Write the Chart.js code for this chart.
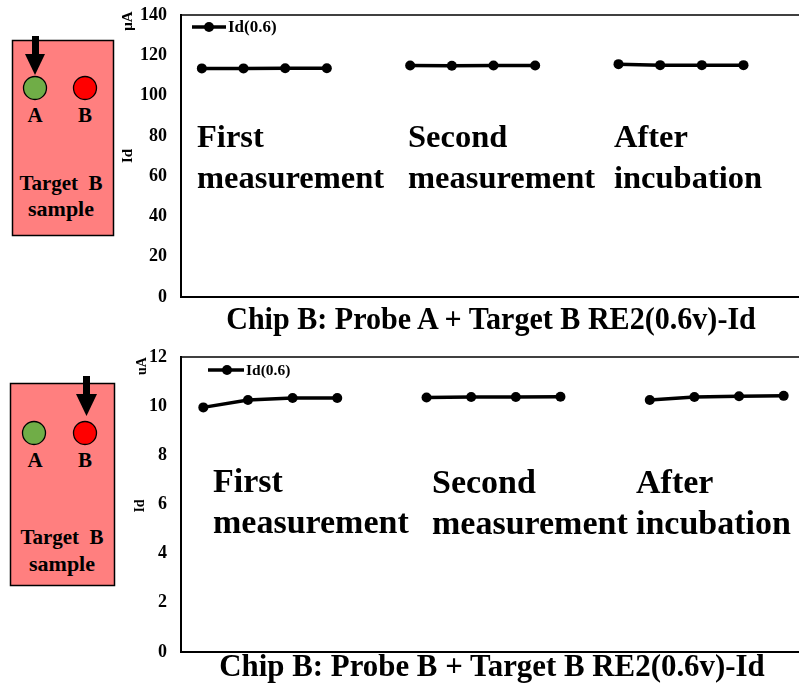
<!DOCTYPE html>
<html>
<head>
<meta charset="utf-8">
<script src="https://cdn.jsdelivr.net/npm/chart.js@4/dist/chart.umd.min.js"></script>
<style>
  html, body { margin:0; padding:0; background:#fff; }
  #wrap { position:relative; width:799px; height:689px; overflow:hidden; background:#fff; }
  canvas { position:absolute; left:0; }
  .t { position:absolute; font-family:"Liberation Serif","Times New Roman",serif; font-weight:bold; color:#000; white-space:nowrap; }
  .rot { transform:translate(-50%,-50%) rotate(-90deg); }
  svg { position:absolute; left:0; top:0; }
</style>
</head>
<body>
<div id="wrap">
  <svg width="799" height="689">
    <!-- top diagram -->
    <rect x="12.5" y="40.5" width="101" height="195" fill="#FF7F7F" stroke="#000" stroke-width="1.5"/>
    <circle cx="35" cy="88" r="11.5" fill="#70AD47" stroke="#000" stroke-width="1.3"/>
    <circle cx="85" cy="88" r="11.5" fill="#FF0000" stroke="#000" stroke-width="1.3"/>
    <rect x="32" y="36" width="7" height="19" fill="#000"/>
    <polygon points="25,54 45,54 35,75" fill="#000"/>
    <text x="35" y="122" text-anchor="middle" font-family="Liberation Serif" font-weight="bold" font-size="21">A</text>
    <text x="85" y="122" text-anchor="middle" font-family="Liberation Serif" font-weight="bold" font-size="21">B</text>
    <text x="61" y="190" text-anchor="middle" font-family="Liberation Serif" font-weight="bold" font-size="21" xml:space="preserve">Target  B</text>
    <text x="61" y="216" text-anchor="middle" font-family="Liberation Serif" font-weight="bold" font-size="22">sample</text>
    <!-- bottom diagram -->
    <rect x="10.5" y="383.5" width="104" height="202" fill="#FF7F7F" stroke="#000" stroke-width="1.5"/>
    <circle cx="34" cy="433" r="11.5" fill="#70AD47" stroke="#000" stroke-width="1.3"/>
    <circle cx="85" cy="433" r="11.5" fill="#FF0000" stroke="#000" stroke-width="1.3"/>
    <rect x="83" y="376" width="7" height="19" fill="#000"/>
    <polygon points="76,394 97,394 86.5,416" fill="#000"/>
    <text x="35" y="467" text-anchor="middle" font-family="Liberation Serif" font-weight="bold" font-size="21">A</text>
    <text x="85" y="467" text-anchor="middle" font-family="Liberation Serif" font-weight="bold" font-size="21">B</text>
    <text x="62" y="544" text-anchor="middle" font-family="Liberation Serif" font-weight="bold" font-size="21" xml:space="preserve">Target  B</text>
    <text x="62" y="571" text-anchor="middle" font-family="Liberation Serif" font-weight="bold" font-size="22">sample</text>
  </svg>
  <canvas id="c1" width="811" height="330" style="top:-9px"></canvas>
  <canvas id="c2" width="811" height="343" style="top:333px"></canvas>

  <!-- legends -->
  <svg width="799" height="689" style="pointer-events:none">
    <line x1="192" y1="27" x2="226" y2="27" stroke="#000" stroke-width="3.5"/>
    <circle cx="209" cy="27" r="5" fill="#000"/>
    <line x1="208" y1="370" x2="244" y2="370" stroke="#000" stroke-width="3.5"/>
    <circle cx="227" cy="370" r="5" fill="#000"/>
  </svg>
  <div class="t" style="left:228px;top:18px;font-size:17px;line-height:18px;">Id(0.6)</div>
  <div class="t" style="left:246px;top:362px;font-size:15.5px;line-height:16px;">Id(0.6)</div>

  <!-- axis titles -->
  <div class="t rot" style="left:127px;top:21px;font-size:15px;">μA</div>
  <div class="t rot" style="left:127px;top:156px;font-size:15px;">Id</div>
  <div class="t rot" style="left:142px;top:366px;font-size:14px;">uA</div>
  <div class="t rot" style="left:140px;top:506px;font-size:14px;">Id</div>

  <!-- annotations top -->
  <div class="t" style="left:197px;top:116px;font-size:32.5px;line-height:41px;">First<br>measurement</div>
  <div class="t" style="left:408px;top:116px;font-size:32.5px;line-height:41px;">Second<br>measurement</div>
  <div class="t" style="left:614px;top:116px;font-size:32.5px;line-height:41px;">After<br>incubation</div>
  <!-- annotations bottom -->
  <div class="t" style="left:213px;top:460px;font-size:34px;line-height:41px;">First<br>measurement</div>
  <div class="t" style="left:432px;top:461px;font-size:34px;line-height:41px;">Second<br>measurement</div>
  <div class="t" style="left:636px;top:461px;font-size:34px;line-height:41px;">After<br>incubation</div>

  <!-- titles -->
  <div class="t" style="left:491px;top:300px;font-size:32px;line-height:36px;transform:translateX(-50%) scaleX(0.94);">Chip B: Probe A + Target B RE2(0.6v)-Id</div>
  <div class="t" style="left:492px;top:647px;font-size:32px;line-height:36px;transform:translateX(-50%) scaleX(0.965);">Chip B: Probe B + Target B RE2(0.6v)-Id</div>
</div>
<script>
// ---- data ----
const seriesName = "Id(0.6)";
const groupNames = ["First measurement", "Second measurement", "After incubation"];
// slot positions along x (one empty slot between groups)
const slotPos = [1, 2, 3, 4, 6, 7, 8, 9, 11, 12, 13, 14];
// Chip B: Probe A + Target B (µA)
const probeA = [113.5, 113.5, 113.6, 113.6, 114.9, 114.8, 114.9, 114.9, 115.6, 115.1, 115.1, 115.1];
// Chip B: Probe B + Target B (uA)
const probeB = [9.95, 10.25, 10.33, 10.33, 10.35, 10.37, 10.37, 10.38, 10.25, 10.37, 10.40, 10.42];
const yTicksTop = [0, 20, 40, 60, 80, 100, 120, 140];
const yTicksBottom = [0, 2, 4, 6, 8, 10, 12];

function buildPoints(vals) {
  const pts = [];
  vals.forEach((v, i) => {
    if (i > 0 && slotPos[i] - slotPos[i - 1] > 1) pts.push({ x: slotPos[i] - 1, y: null });
    pts.push({ x: slotPos[i], y: v });
  });
  return pts;
}

const topBorder = {
  id: 'topBorder',
  afterDraw(chart) {
    const { ctx, chartArea } = chart;
    ctx.save();
    ctx.strokeStyle = '#000';
    ctx.lineWidth = 1.5;
    ctx.beginPath();
    ctx.moveTo(chartArea.left, chartArea.top);
    ctx.lineTo(chart.width, chartArea.top);
    ctx.stroke();
    ctx.restore();
  }
};

function makeChart(id, vals, ticks, xmax) {
  const yMin = ticks[0], yMax = ticks[ticks.length - 1];
  return new Chart(document.getElementById(id), {
    type: 'line',
    data: {
      datasets: [{
        label: seriesName,
        data: buildPoints(vals),
        borderColor: '#000',
        backgroundColor: '#000',
        borderWidth: 3.5,
        pointRadius: 5,
        pointBackgroundColor: '#000',
        pointBorderWidth: 0,
        spanGaps: false,
        tension: 0
      }]
    },
    options: {
      responsive: false,
      animation: false,
      devicePixelRatio: 1,
      layout: { padding: 0 },
      plugins: { legend: { display: false }, tooltip: { enabled: false }, title: { display: false } },
      scales: {
        x: {
          type: 'linear', min: 0.5, max: xmax,
          ticks: { display: false },
          grid: { display: false, drawTicks: false },
          border: { display: true, color: '#000', width: 2 },
          afterFit: s => { s.height = 0; }
        },
        y: {
          min: yMin, max: yMax,
          afterBuildTicks: s => { s.ticks = ticks.map(v => ({ value: v })); },
          ticks: { color: '#000', padding: 14, font: { family: 'Liberation Serif', weight: 'bold', size: 18, lineHeight: '20px' } },
          grid: { display: false, drawTicks: false },
          border: { display: true, color: '#000', width: 2 },
          afterFit: s => { s.width = 181; }
        }
      }
    },
    plugins: [topBorder]
  });
}

makeChart('c1', probeA, yTicksTop, 15.5);
makeChart('c2', probeB, yTicksBottom, 14.5);
</script>
</body>
</html>
